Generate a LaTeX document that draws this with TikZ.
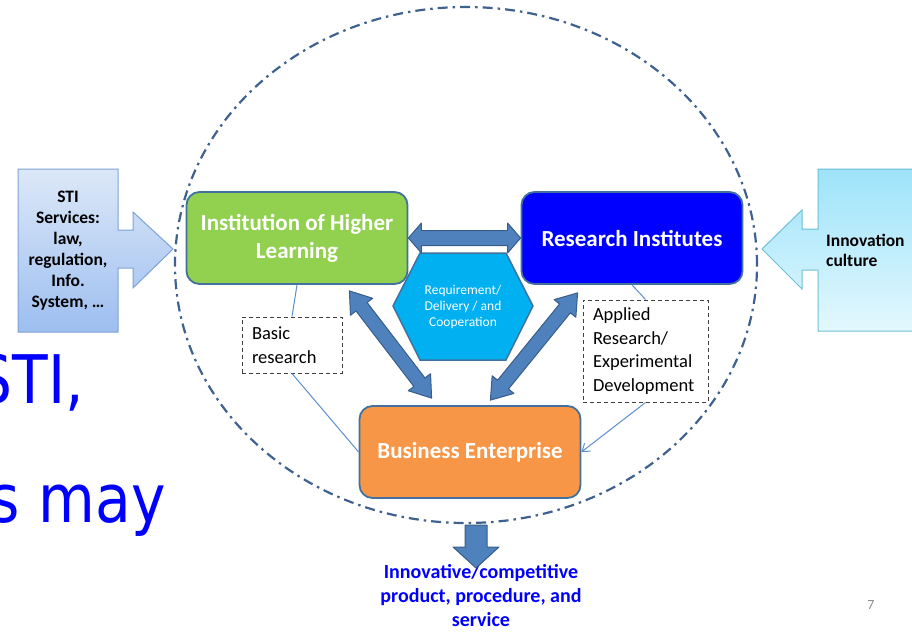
\documentclass[tikz,border=0pt]{standalone}
\usepackage{fontspec}
\setmainfont{Carlito}
\newfontfamily\slidefont[FakeStretch=0.87]{DejaVu Sans}
\usetikzlibrary{calc,arrows.meta,positioning}

\definecolor{ringblue}{HTML}{3E6190}
\definecolor{edgeblue}{HTML}{41719C}
\definecolor{hilgreen}{HTML}{92D050}
\definecolor{riblue}{HTML}{0000FF}
\definecolor{beorange}{HTML}{F79646}
\definecolor{hexcyan}{HTML}{00B0F0}
\definecolor{arrowfill}{HTML}{4F81BD}
\definecolor{arrowedge}{HTML}{385D8A}
\definecolor{linkblue}{HTML}{5B8ED0}
\definecolor{dashgray}{HTML}{404040}
\definecolor{stitop}{HTML}{DCE8F8}
\definecolor{stibot}{HTML}{9DBEF0}
\definecolor{stiedge}{HTML}{7DA2D6}
\definecolor{culttop}{HTML}{9DE3FA}
\definecolor{cultbot}{HTML}{E3F8FE}
\definecolor{cultedge}{HTML}{6DBFD8}
\definecolor{slideblue}{HTML}{0000FF}

\newcommand{\fatdouble}[5]{%
  \draw[fatarrow] (#1)
    -- ($(#1)!#3!(#2)!#4!90:(#2)$) -- ($(#1)!#3!(#2)!#5!90:(#2)$)
    -- ($(#2)!#3!(#1)!#5!-90:(#1)$) -- ($(#2)!#3!(#1)!#4!-90:(#1)$)
    -- (#2)
    -- ($(#2)!#3!(#1)!#4!90:(#1)$) -- ($(#2)!#3!(#1)!#5!90:(#1)$)
    -- ($(#1)!#3!(#2)!#5!-90:(#2)$) -- ($(#1)!#3!(#2)!#4!-90:(#2)$)
    -- cycle;}

\begin{document}
\begin{tikzpicture}[%
        x=1pt, y=-1pt,
        ring/.style={draw=ringblue, line width=2.2pt, dash pattern=on 10pt off 5pt on 2.5pt off 5pt},
        box/.style={draw=edgeblue, line width=1.8pt, rounded corners=13pt, minimum width=221pt,
                    minimum height=92pt, align=center, text=white, font=\fontsize{23}{28}\selectfont\bfseries},
        fatarrow/.style={fill=arrowfill, draw=arrowedge, line width=1pt, line join=round},
        dashbox/.style={draw=dashgray, line width=1pt, dash pattern=on 4pt off 3pt, align=left,
                        inner xsep=10pt, font=\fontsize{18.5}{23.5}\selectfont},
        link/.style={draw=linkblue, line width=1pt},
        sidetext/.style={align=center, inner sep=0pt, font=\fontsize{17.5}{21}\selectfont\bfseries},
        bigtext/.style={inner sep=0pt, text=slideblue, font=\slidefont\fontsize{67}{80}\selectfont}
    ]
    \useasboundingbox (0,0) rectangle (912,632);
    \clip (0,0) rectangle (912,632);

    \draw[ring] (466,265) ellipse [x radius=291pt, y radius=258pt];

    \node[bigtext, anchor=base east] (stiword) at (84,403) {STI,};
    \node[bigtext, anchor=base east] (mayword) at (166,522) {s may};

    % side callouts
    \draw[draw=stiedge, line width=1pt, top color=stitop, bottom color=stibot]
        (18,169) -- (118,169) -- (118,230) -- (133,230) -- (133,212) -- (173,249)
        -- (133,288) -- (133,268) -- (118,268) -- (118,332) -- (18,332) -- cycle;
    \node[sidetext] (sti) at (68,251) {STI\\Services:\\law,\\regulation,\\Info.\\System, …};

    \draw[draw=cultedge, line width=1pt, top color=culttop, bottom color=cultbot]
        (930,169) -- (818,169) -- (818,229) -- (802,229) -- (802,210) -- (762,249)
        -- (802,289) -- (802,270) -- (818,270) -- (818,331) -- (930,331) -- cycle;
    \node[sidetext, align=left, anchor=west, font=\fontsize{17.5}{20}\selectfont\bfseries]
        (culture) at (826,250) {Innovation\\culture};

    \node[box, fill=hilgreen] (hil) at (297,238) {Institution of Higher\\Learning};
    \node[box, fill=riblue] (ri) at (632,238) {Research Institutes};
    \node[box, fill=beorange] (be) at (470,452) {Business Enterprise};

    \draw[fill=hexcyan, draw=edgeblue, line width=1.5pt]
        (393,306) -- (420,253) -- (506,253) -- (533,306) -- (506,360) -- (420,360) -- cycle;
    \node[align=center, text=white, font=\fontsize{13.5}{16}\selectfont] (req) at (463,307)
        {Requirement/\\Delivery / and\\Cooperation};

    \node[dashbox, text width=80pt, minimum height=56pt] (basic) at (292,345) {Basic\\research};
    \node[dashbox, text width=105pt, minimum height=102pt] (applied) at (645.5,351)
        {Applied\\Research/\\Experimental\\Development};

    \draw[link] (hil.south) -- (basic.north);
    \draw[link] (basic.south) -- (be.west);
    \draw[link] (ri.south) -- (applied.north);
    \draw[link, -{Straight Barb[length=7pt,width=10pt]}] (applied.south) -- (be.east);

    \coordinate (hilfoot) at ($(hil.south east)+(-59,6)$);
    \coordinate (beleft)  at ($(be.north west)+(73,-7)$);
    \coordinate (rifoot)  at ($(ri.south west)+(57,8)$);
    \coordinate (beright) at ($(be.north east)+(-91,-5)$);

    \fatdouble{hil.east}{ri.west}{13pt}{15pt}{7.5pt}
    \fatdouble{hilfoot}{beleft}{20pt}{14pt}{7pt}
    \fatdouble{rifoot}{beright}{20pt}{14pt}{7pt}

    \node[align=center, text=slideblue, font=\fontsize{20}{24}\selectfont\bfseries] (prod) at (481,596)
        {Innovative/competitive\\product, procedure, and\\service};
    \coordinate (dntop) at (476,525);
    \coordinate (dntip) at (476,568);
    \draw[fatarrow] ($(dntop)+(-11,0)$) -- ($(dntop)+(11,0)$) -- ($(dntop)+(11,22)$) -- ($(dntop)+(23,22)$)
        -- (dntip) -- ($(dntop)+(-23,22)$) -- ($(dntop)+(-11,22)$) -- cycle;

    \node[text=black!45, font=\fontsize{14}{16}\selectfont] (pnum) at (871,605) {7};
\end{tikzpicture}
\end{document}
